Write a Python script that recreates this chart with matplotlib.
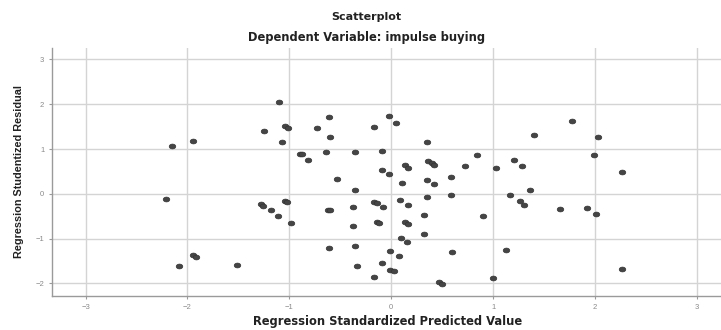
#!/usr/bin/env python

"""
Residual scatterplot: studentized residual vs standardized predicted value.
"""

import numpy as np
import matplotlib
matplotlib.use("Agg")
import matplotlib.pyplot as plt
from matplotlib.path import Path
from matplotlib.transforms import Affine2D

pred = [-1.10, -1.25, -1.04, -1.01, -1.07, -1.95, -2.15, -0.90, -2.21, -1.28,
        -1.26, -1.18, -1.11, -1.04, -1.02, -0.98, -1.95, -1.92, -2.08, -1.51,
        -0.61, -0.73, -0.60, -0.88, -0.82, -0.64, -0.36, -0.17, -0.02, 0.05,
        -0.09, -0.09, -0.02, -0.53, -0.36, 0.13, 0.16, 0.11, -0.17, -0.14,
        0.09, 0.16, -0.62, -0.60, -0.38, -0.08, -0.38, -0.14, -0.12, 0.13,
        0.16, 0.10, 0.15, -0.61, -0.36, -0.01, 0.08, -0.09, -0.34, -0.01,
        0.03, -0.17, 0.35, 0.84, 0.72, 1.03, 1.20, 0.36, 0.40, 0.42,
        0.35, 0.42, 0.59, 0.35, 0.59, 1.17, 0.32, 0.90, 0.32, 0.60,
        1.13, 0.47, 0.50, 1.00, 1.26, 1.77, 1.40, 2.03, 1.99, 2.26,
        1.28, 1.36, 1.30, 1.66, 1.92, 2.01, 2.26]
resid = [2.04, 1.41, 1.51, 1.46, 1.15, 1.18, 1.06, 0.89, -0.11, -0.22,
         -0.26, -0.37, -0.49, -0.16, -0.19, -0.66, -1.36, -1.41, -1.61, -1.58,
         1.72, 1.48, 1.27, 0.90, 0.76, 0.94, 0.94, 1.50, 1.73, 1.59,
         0.95, 0.54, 0.45, 0.34, 0.09, 0.64, 0.58, 0.24, -0.18, -0.21,
         -0.13, -0.25, -0.35, -0.37, -0.30, -0.30, -0.71, -0.63, -0.65, -0.62,
         -0.67, -0.99, -1.07, -1.21, -1.16, -1.27, -1.39, -1.54, -1.60, -1.70,
         -1.73, -1.85, 1.15, 0.86, 0.63, 0.58, 0.76, 0.74, 0.69, 0.64,
         0.31, 0.22, 0.38, -0.07, -0.03, -0.03, -0.47, -0.49, -0.89, -1.30,
         -1.25, -1.97, -2.01, -1.88, -0.17, 1.62, 1.32, 1.27, 0.86, 0.48,
         0.63, 0.09, -0.24, -0.34, -0.31, -0.45, -1.68]

ticks = [-3, -2, -1, 0, 1, 2, 3]
yticks = [-2, -1, 0, 1, 2, 3]

plt.rcParams['font.family'] = ['Liberation Sans', 'DejaVu Sans']
wide = ['DejaVu Sans']  # reference text is stretched sideways

# slightly wide ellipse marker, like the SPSS output
ellipse = Path.unit_circle().transformed(Affine2D().scale(1.35, 1.0))

fig = plt.figure(figsize=(7.21, 3.30), dpi=100)
ax = fig.add_axes([0.072, 0.103, 0.93, 0.752])

ax.scatter(pred, resid, marker=ellipse, s=22, color='#454545',
           edgecolor='#333333', linewidth=0.5, zorder=3)

ax.set_xlim(-3.33, 3.25)
ax.set_ylim(-2.28, 3.26)
ax.set_xticks(ticks)
ax.set_yticks(yticks)
ax.grid(True, color='#d4d4d4', linewidth=1.0)
ax.set_axisbelow(True)

for s in ['top', 'right']:
    ax.spines[s].set_visible(False)
for s in ['left', 'bottom']:
    ax.spines[s].set_color('#9a9a9a')
    ax.spines[s].set_linewidth(1.0)

ax.tick_params(colors='#9a9a9a', labelcolor='#8a8a8a', labelsize=5.5,
               length=2, width=0.8)

ax.set_xlabel('Regression Standardized Predicted Value', fontsize=8.3,
              fontweight='bold', color='#222222', labelpad=3, family=wide)
ax.set_ylabel('Regression Studentized Residual', fontsize=7.8,
              fontweight='bold', color='#222222', labelpad=8)

fig.text(0.508, 0.948, 'Scatterplot', ha='center', va='center',
         fontsize=8, fontweight='bold', color='#222222', family=wide)
fig.text(0.508, 0.885, 'Dependent Variable: impulse buying', ha='center',
         va='center', fontsize=8.3, fontweight='bold', color='#222222',
         family=wide)

fig.savefig('out.png', dpi=100)
